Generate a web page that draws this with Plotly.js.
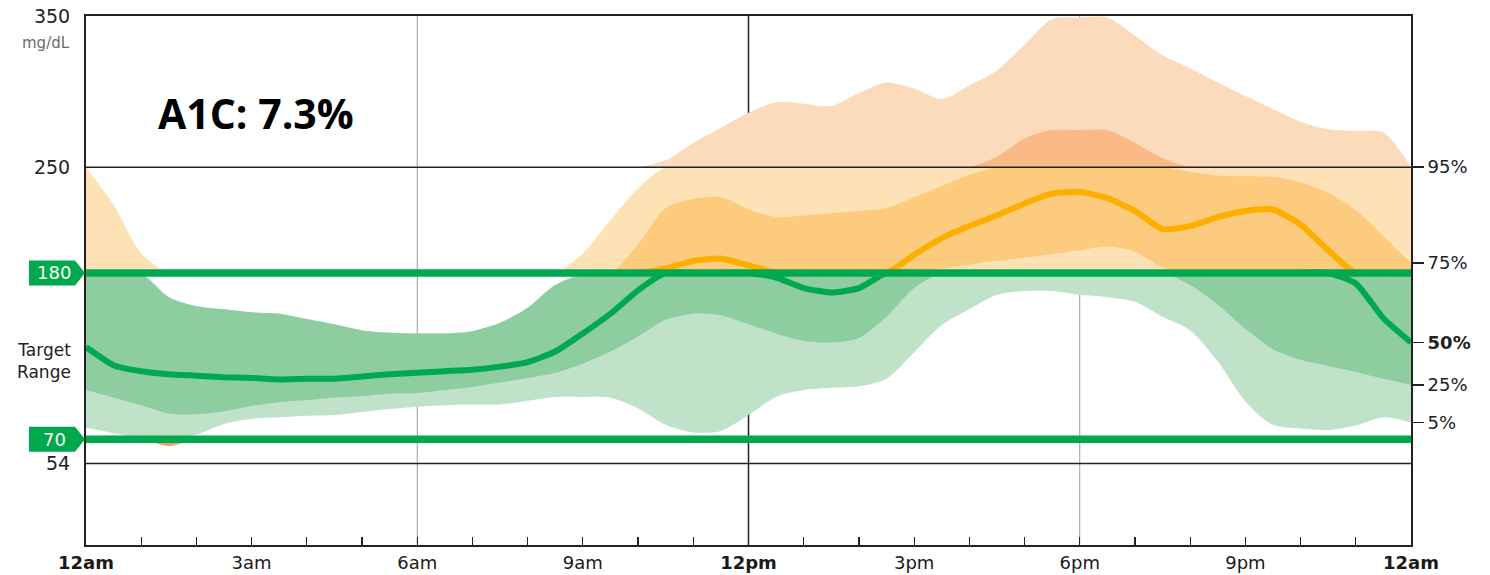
<!DOCTYPE html>
<html><head><meta charset="utf-8">
<script src="https://cdn.plot.ly/plotly-3.0.1.min.js"></script>
<style>html,body{margin:0;padding:0;background:#fff}#chart{width:1490px;height:575px}</style>
</head><body><div id="chart"></div>
<script>
// time of day in hours (half-hour steps)
const hours = [0,0.5,1,1.5,2,2.5,3,3.5,4,4.5,5,5.5,6,6.5,7,7.5,8,8.5,9,9.5,10,10.5,11,11.5,12,12.5,13,13.5,14,14.5,15,15.5,16,16.5,17,17.5,18,18.5,19,19.5,20,20.5,21,21.5,22,22.5,23,23.5,24];

// glucose percentiles, mg/dL
const p95 = [250,225,193,164,158,156,154,153,149.5,146,142,140.5,140,140,141.5,147,157,172,193,215,236,254.5,266,276,286,293,292,290.5,299,306,302,295,304,314,331,348,349,349,337,324,315.5,306,297,288.5,280,275,274,273,250];
const p75 = [180,180,179,164,158,156,154,153,149.5,146,142,140.5,140,140,141.5,147,157,172,178.5,179.5,199,223,229,230,222,217,218,219.5,221,223,230,237.5,245,257,269,274.5,274.5,274.5,266,256,247,244.5,244,243.5,240,233,221.5,204.5,186.5];
const p50 = [131,119,115,113,112,111,110.5,109.5,110,110,111.5,113,114,115,116,118,121,128,140,153,168.5,183,188,189.5,185,177,170,167,170,180,192,203,211,218,226,232.5,233.5,229.5,221,209,211,217,221,222,212,195,173,150,134];
const p25 = [102.5,97.5,92.5,87,86.5,88.5,92,94.5,96,97.5,98.5,100,100.5,102.5,104.5,107.5,110.5,114,120,128,138,149,153,152,146,140,135,134,137,151,170,183,185.5,188,190,192.5,195,197.5,194,183.5,172,159,143,129.5,122.5,118.5,114.5,110,106];
const p5  = [77.5,74,70.5,65.5,73,80,83.5,84.5,85.5,86,88,90,91.5,92.5,93,93,95.5,98,98,97.5,90.5,79.5,74.5,75.5,86,98,102.5,104,105,110,127.5,145.5,156,165.5,168,168,165.5,164,161,151,142,121.5,95,79.5,77,76,79,84.5,81];

const xTickVals = [0,3,6,9,12,15,18,21,24];
const xTickText = ['<b>12am</b>','3am','6am','9am','<b>12pm</b>','3pm','6pm','9pm','<b>12am</b>'];
const yTickVals = [54,250,350];
const yTickText = ['54','250','350'];
const pctLabels = ['5%','25%','<b>50%</b>','75%','95%'];
const targetLow = 70, targetHigh = 180, highLine = 250, lowLine = 54;
const a1cText = 'A1C: 7.3%';

const zones = [
  {lo:0,   hi:70,  outer:'#F59A70', inner:'#F07050'},
  {lo:70,  hi:180, outer:'#C0E2C8', inner:'#8ECDA0'},
  {lo:180, hi:250, outer:'#FEE2B6', inner:'#FDCB7E'},
  {lo:250, hi:400, outer:'#FCDBBD', inner:'#F9BA88'}
];
const clamp = (arr, lo, hi) => arr.map(v => Math.min(hi, Math.max(lo, v)));
const lineShape = {width:0, shape:'spline', smoothing:0.8};
const traces = [];
function band(lower, upper, key){
  zones.forEach(z => {
    traces.push({x:hours, y:clamp(lower,z.lo,z.hi), mode:'lines', line:lineShape, hoverinfo:'skip', showlegend:false});
    traces.push({x:hours, y:clamp(upper,z.lo,z.hi), mode:'lines', line:lineShape, fill:'tonexty', fillcolor:z[key], hoverinfo:'skip', showlegend:false});
  });
}
band(p5, p95, 'outer');
band(p25, p75, 'inner');
traces.push({x:hours, y:clamp(p50,0,targetHigh), mode:'lines', line:{width:6, color:'#00A94F', shape:'spline', smoothing:0.55}, hoverinfo:'skip'});
traces.push({x:hours, y:clamp(p50,targetHigh,400), mode:'lines', line:{width:6, color:'#FDAE00', shape:'spline', smoothing:0.55}, hoverinfo:'skip'});
// anchor trace for the right-hand percentile axis
traces.push({x:[0,24], y:[0,0], yaxis:'y2', mode:'lines', line:{width:0}, hoverinfo:'skip'});

const last = a => a[a.length-1];
const font = 'DejaVu Sans, Verdana, sans-serif';
const green = '#00A94F';

const tagPath = 'M-57,12.5 L-11,12.5 L-1,0 L-11,-12.5 L-57,-12.5 Z';
const shapes = [
  {type:'line', layer:'below', xref:'x', yref:'paper', x0:6, x1:6, y0:0, y1:1, line:{color:'#9a9a9a', width:1}},
  {type:'line', layer:'below', xref:'x', yref:'paper', x0:18, x1:18, y0:0, y1:1, line:{color:'#9a9a9a', width:1}},
  {type:'line', layer:'below', xref:'x', yref:'paper', x0:12, x1:12, y0:0, y1:1, line:{color:'#222', width:1.5}},
  {type:'line', layer:'above', xref:'paper', yref:'y', x0:0, x1:1, y0:highLine, y1:highLine, line:{color:'#222', width:1.5}},
  {type:'line', layer:'above', xref:'paper', yref:'y', x0:0, x1:1, y0:lowLine, y1:lowLine, line:{color:'#222', width:1.5}},
  {type:'line', layer:'above', xref:'paper', yref:'y', x0:0, x1:1, y0:targetHigh, y1:targetHigh, line:{color:green, width:7.5}},
  {type:'line', layer:'above', xref:'paper', yref:'y', x0:0, x1:1, y0:targetLow, y1:targetLow, line:{color:green, width:7.5}},
  {type:'path', layer:'above', xref:'paper', yref:'y', xsizemode:'pixel', ysizemode:'pixel', xanchor:0, yanchor:targetHigh, path:tagPath, fillcolor:green, line:{width:0}},
  {type:'path', layer:'above', xref:'paper', yref:'y', xsizemode:'pixel', ysizemode:'pixel', xanchor:0, yanchor:targetLow, path:tagPath, fillcolor:green, line:{width:0}}
];

const annotations = [
  {xref:'paper', yref:'y', x:0, y:332, xanchor:'right', xshift:-14, text:'mg/dL', showarrow:false, font:{family:font, size:15, color:'#6b6b6b'}},
  {xref:'paper', yref:'y', x:0, y:122, xanchor:'right', xshift:-13, text:'Target<br>Range', align:'right', showarrow:false, font:{family:font, size:17, color:'#222'}},
  {xref:'paper', yref:'y', x:0, y:targetHigh, xanchor:'center', xshift:-32, text:String(targetHigh), showarrow:false, font:{family:font, size:18, color:'#FFFDE8'}},
  {xref:'paper', yref:'y', x:0, y:targetLow, xanchor:'center', xshift:-32, text:String(targetLow), showarrow:false, font:{family:font, size:18, color:'#FFFDE8'}},
  {xref:'paper', yref:'y', x:0.0525, y:286, xanchor:'left', text:'<b>'+a1cText+'</b>', showarrow:false, font:{family:'Open Sans, Lato, sans-serif', size:41, color:'#000'}}
];

const layout = {
  width:1490, height:575,
  margin:{l:86, r:79, t:16, b:30},
  paper_bgcolor:'#fff', plot_bgcolor:'#fff',
  showlegend:false,
  xaxis:{range:[0,24], showgrid:false, zeroline:false, showline:true, mirror:true, linecolor:'#222', linewidth:2,
    tickvals:xTickVals, ticktext:xTickText, ticks:'inside', ticklen:8, tickcolor:'#222', tickwidth:1.2,
    minor:{ticks:'inside', tick0:0, dtick:1, ticklen:8, tickcolor:'#222', tickwidth:1.2, showgrid:false},
    tickfont:{family:font, size:18, color:'#1a1a1a'}},
  yaxis:{range:[0,350], showgrid:false, zeroline:false, showline:true, mirror:true, linecolor:'#222', linewidth:2,
    tickvals:yTickVals, ticktext:yTickText, ticks:'', ticklabelstandoff:10,
    tickfont:{family:font, size:19, color:'#222'}},
  yaxis2:{range:[0,350], overlaying:'y', side:'right', showgrid:false, zeroline:false, showline:false,
    tickvals:[last(p5), last(p25), last(p50), last(p75), last(p95)], ticktext:pctLabels,
    ticks:'outside', ticklen:12, tickcolor:'#222', tickwidth:1.5,
    tickfont:{family:font, size:18, color:'#222'}},
  shapes:shapes,
  annotations:annotations
};

Plotly.newPlot('chart', traces, layout, {staticPlot:true, displayModeBar:false});
</script>
</body></html>
